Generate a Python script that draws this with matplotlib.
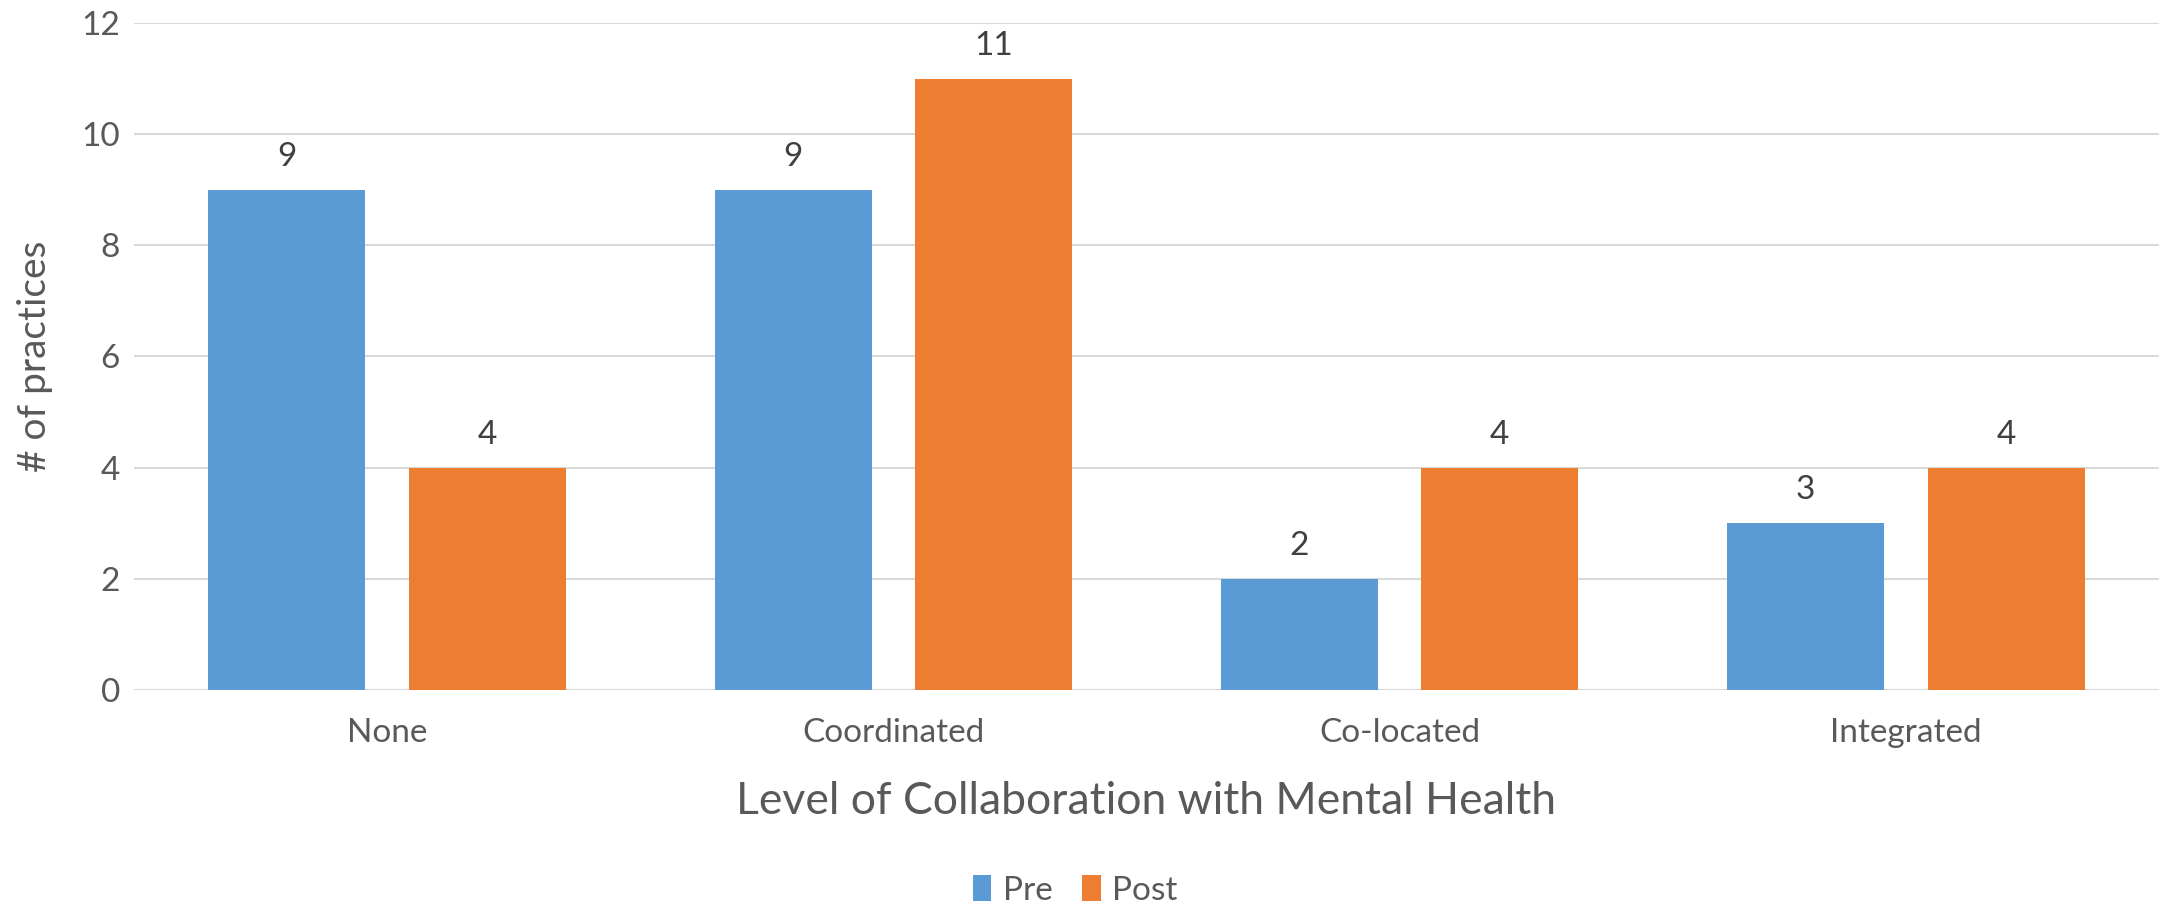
import matplotlib
matplotlib.use("Agg")
import matplotlib.pyplot as plt
import numpy as np

categories = ["None", "Coordinated", "Co-located", "Integrated"]
pre = [9, 9, 2, 3]
post = [4, 11, 4, 4]
series_names = ["Pre", "Post"]

plt.rcParams['font.family'] = ['Lato', 'DejaVu Sans']

blue = '#5B9BD5'
orange = '#ED7D31'
text_col = '#595959'

fig = plt.figure(figsize=(21.59, 9.05), dpi=100)
ax = fig.add_axes([0.062, 0.2376, 0.938, 0.737])

x = np.arange(len(categories))
w = 0.31
off = 0.198
b1 = ax.bar(x - off, pre, w, color=blue, label=series_names[0], zorder=3)
b2 = ax.bar(x + off, post, w, color=orange, label=series_names[1], zorder=3)

for bars in (b1, b2):
    for r in bars:
        ax.text(r.get_x() + r.get_width() / 2, r.get_height() + 0.32,
                "{:d}".format(int(r.get_height())), ha='center', va='bottom',
                fontsize=24, color='#404040')

ax.set_xlim(-0.5, 3.5)
ax.set_ylim(0, 12)
ax.set_yticks(range(0, 13, 2))
ax.set_xticks(x)
ax.set_xticklabels(categories)
ax.tick_params(axis='both', length=0, labelsize=24, colors=text_col)
ax.tick_params(axis='x', pad=20)
ax.tick_params(axis='y', pad=10)
ax.grid(axis='y', color='#D9D9D9', linewidth=1.5, zorder=0)
for s in ax.spines.values():
    s.set_visible(False)

ax.set_ylabel("# of practices", fontsize=28, color=text_col, labelpad=20)
ax.set_xlabel("Level of Collaboration with Mental Health", fontsize=32,
              color=text_col, labelpad=24)

fig.legend(loc='lower center', bbox_to_anchor=(0.498, -0.034), ncol=2, frameon=False,
           fontsize=24, handlelength=0.55, handleheight=0.8, handletextpad=0.35,
           columnspacing=0.9, labelcolor=text_col)

fig.savefig("out.png", dpi=100)
